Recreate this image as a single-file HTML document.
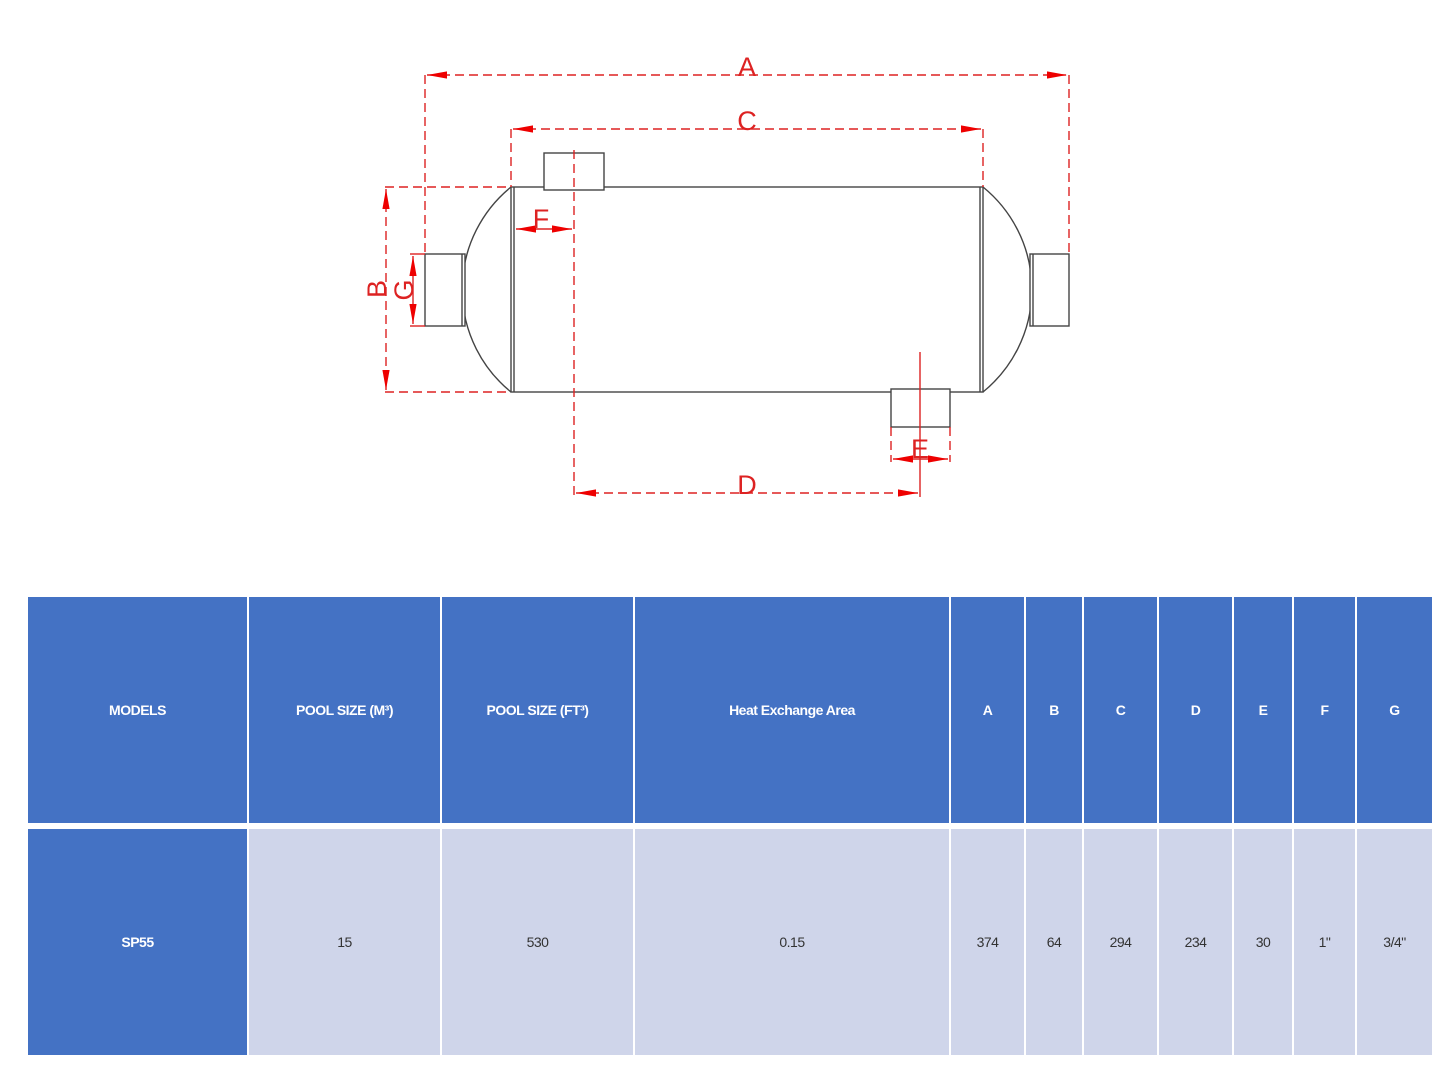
<!DOCTYPE html>
<html><head><meta charset="utf-8"><style>
html,body{margin:0;padding:0;background:#fff;width:1445px;height:1084px;overflow:hidden}
.c{position:absolute;display:flex;align-items:center;justify-content:center;font-family:"Liberation Sans Narrow","Liberation Sans",sans-serif;font-size:14px;letter-spacing:-0.5px}
.h{background:#4472C4;color:#fff;font-weight:bold;top:597px;height:226px}
.b{background:#CFD5EA;color:#333;top:829px;height:226px}
</style></head><body>
<svg width="1445" height="560" style="position:absolute;left:0;top:0" xmlns="http://www.w3.org/2000/svg">
<defs>
<marker id="ar" viewBox="0 0 10 10" refX="10" refY="5" markerWidth="20" markerHeight="9" orient="auto-start-reverse" markerUnits="userSpaceOnUse" preserveAspectRatio="none"><path d="M0,1 L10,5 L0,9 z" fill="#e00"/></marker>
</defs>
<g fill="none" stroke="#444" stroke-width="1.4">
<path d="M511,187 A132,132 0 0 0 511,392"/>
<path d="M983,187 A132,132 0 0 1 983,392"/>
<rect x="511" y="187" width="472" height="205"/>
<line x1="514" y1="187" x2="514" y2="392"/>
<line x1="980" y1="187" x2="980" y2="392"/>
<rect x="425" y="254" width="40" height="72" fill="#fff"/>
<line x1="462" y1="254" x2="462" y2="326"/>
<rect x="1030" y="254" width="39" height="72" fill="#fff"/>
<line x1="1033" y1="254" x2="1033" y2="326"/>
<rect x="544" y="153" width="60" height="37" fill="#fff"/>
<rect x="891" y="389" width="59" height="38" fill="#fff"/>
</g>
<g stroke="#d22" stroke-width="1.4" fill="none" stroke-dasharray="9,5">
<line x1="425" y1="75" x2="425" y2="254"/>
<line x1="1069" y1="75" x2="1069" y2="254"/>
<line x1="511" y1="129" x2="511" y2="187"/>
<line x1="983" y1="129" x2="983" y2="187"/>
<line x1="385" y1="187" x2="511" y2="187"/>
<line x1="385" y1="392" x2="511" y2="392"/>
<line x1="574" y1="150" x2="574" y2="497"/>
<line x1="891" y1="427" x2="891" y2="462"/>
<line x1="950" y1="427" x2="950" y2="462"/>
<line x1="427" y1="75" x2="1067" y2="75" marker-start="url(#ar)" marker-end="url(#ar)"/>
<line x1="513" y1="129" x2="981" y2="129" marker-start="url(#ar)" marker-end="url(#ar)"/>
<line x1="576" y1="493" x2="918" y2="493" marker-end="url(#ar)" marker-start="url(#ar)"/>
</g>
<g stroke="#d22" stroke-width="1.4" fill="none">
<line x1="386" y1="189" x2="386" y2="390" stroke-dasharray="9,5" marker-start="url(#ar)" marker-end="url(#ar)"/>
<line x1="413" y1="256" x2="413" y2="324" marker-start="url(#ar)" marker-end="url(#ar)"/>
<line x1="410" y1="254" x2="425" y2="254"/><line x1="410" y1="326" x2="425" y2="326"/>
<line x1="516" y1="229" x2="572" y2="229" marker-start="url(#ar)" marker-end="url(#ar)"/>
<line x1="893" y1="459" x2="948" y2="459" marker-start="url(#ar)" marker-end="url(#ar)"/>
<line x1="920" y1="352" x2="920" y2="497"/>
</g>
<g fill="#d22" font-family="Liberation Sans Narrow, Liberation Sans, sans-serif" font-size="27" text-anchor="middle">
<text x="747" y="76">A</text>
<text x="747" y="130">C</text>
<text x="747" y="494">D</text>
<text x="541" y="228">F</text>
<text x="920" y="458">E</text>
<text transform="translate(386,289) rotate(-90)">B</text>
<text transform="translate(413,290) rotate(-90)">G</text>
</g>
</svg>
<div class="c h" style="left:28px;width:219px">MODELS</div>
<div class="c h" style="left:249px;width:191px">POOL SIZE (M³)</div>
<div class="c h" style="left:442px;width:191px">POOL SIZE (FT³)</div>
<div class="c h" style="left:635px;width:314px">Heat Exchange Area</div>
<div class="c h" style="left:951px;width:73px">A</div>
<div class="c h" style="left:1026px;width:56px">B</div>
<div class="c h" style="left:1084px;width:73px">C</div>
<div class="c h" style="left:1159px;width:73px">D</div>
<div class="c h" style="left:1234px;width:58px">E</div>
<div class="c h" style="left:1294px;width:61px">F</div>
<div class="c h" style="left:1357px;width:75px">G</div>
<div class="c h" style="left:28px;width:219px;top:829px">SP55</div>
<div class="c b" style="left:249px;width:191px">15</div>
<div class="c b" style="left:442px;width:191px">530</div>
<div class="c b" style="left:635px;width:314px">0.15</div>
<div class="c b" style="left:951px;width:73px">374</div>
<div class="c b" style="left:1026px;width:56px">64</div>
<div class="c b" style="left:1084px;width:73px">294</div>
<div class="c b" style="left:1159px;width:73px">234</div>
<div class="c b" style="left:1234px;width:58px">30</div>
<div class="c b" style="left:1294px;width:61px">1"</div>
<div class="c b" style="left:1357px;width:75px">3/4"</div>
</body></html>
